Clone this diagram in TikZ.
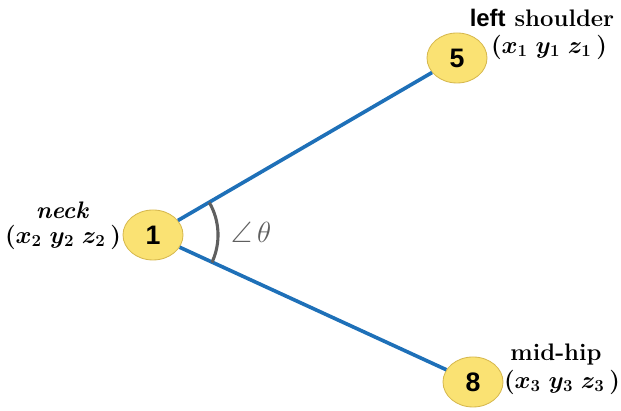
\documentclass[tikz,border=0pt]{standalone}
\usepackage{amsmath}
\usepackage{amssymb}
\usepackage{fontspec}
\newfontfamily\armsans{Liberation Sans}
\usetikzlibrary{arrows.meta,calc,positioning,shapes.geometric}
\definecolor{jointyellow}{RGB}{250,226,115}
\definecolor{jointedge}{RGB}{214,184,78}
\definecolor{boneblue}{RGB}{30,112,184}
\definecolor{arcgray}{RGB}{95,95,95}
\tikzset{
  joint/.style={
    ellipse,
    draw=jointedge,
    fill=jointyellow,
    line width=.6pt,
    minimum width=1.5cm,
    minimum height=1.25cm,
    inner sep=0pt,
    font=\armsans\bfseries\fontsize{19}{21}\selectfont
  },
  bone/.style={
    line width=2.6pt,
    boneblue
  },
  anglearc/.style={
    line width=2.2pt,
    arcgray
  },
  partname/.style={
    inner sep=1pt,
    font=\bfseries\fontsize{17}{19}\selectfont
  },
  coords/.style={
    inner sep=1pt,
    font=\boldmath\fontsize{17}{19}\selectfont
  }
}

\begin{document}
\begin{tikzpicture}[x=0.025cm,y=0.025cm]
\useasboundingbox (0,0) rectangle (621,411);
\node[joint] (n1) at (153,176) {1};
\node[joint] (n5) at (457,353) {5};
\node[joint] (n8) at (473,29) {8};
\draw[bone] (n1) -- (n5);
\draw[bone] (n1) -- (n8);
\draw[anglearc] ($(n1.center)+(30:1.625cm)$) coordinate (a1) arc[start angle=30,end angle=-25,radius=1.625cm];
\node[text=arcgray, font=\fontsize{21}{23}\selectfont] (ang) at (251,179) {$\angle\,\theta$};
\node[partname, font=\bfseries\itshape\fontsize{17}{19}\selectfont] (neck) at (62,201) {neck};
\node[coords] (c1) at (63,174) {$(x_2\;y_2\;z_2\,)$};
\node[partname] (ls) at (542,393) {{\armsans left} shoulder};
\node[coords] (c5) at (549,364) {$(x_1\;y_1\;z_1\,)$};
\node[partname] (mh) at (556,56) {mid-hip};
\node[coords] (c8) at (562,29) {$(x_3\;y_3\;z_3\,)$};
\end{tikzpicture}
\end{document}
